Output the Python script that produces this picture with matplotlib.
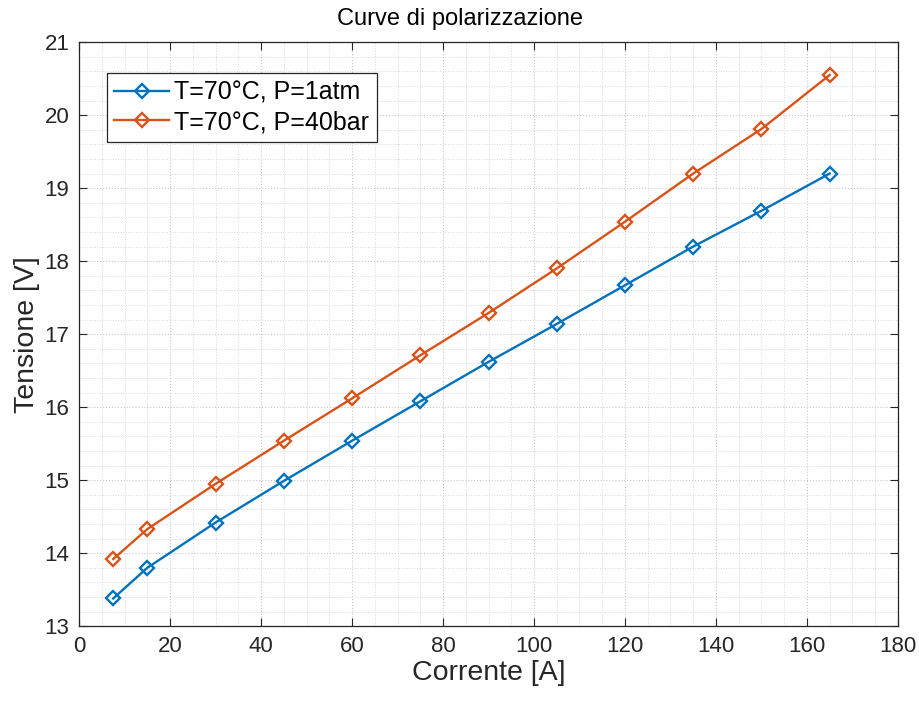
import matplotlib
matplotlib.use("Agg")
import matplotlib.pyplot as plt
from matplotlib.ticker import MultipleLocator

plt.rcParams['font.family'] = ['Liberation Sans', 'DejaVu Sans']

current = [7.5, 15, 30, 45, 60, 75, 90, 105, 120, 135, 150, 165]
v_1atm = [13.38, 13.80, 14.42, 14.99, 15.54, 16.08, 16.62, 17.14, 17.67, 18.20, 18.69, 19.20]
v_40bar = [13.92, 14.33, 14.95, 15.54, 16.12, 16.71, 17.29, 17.90, 18.54, 19.20, 19.81, 20.55]
labels = ['T=70°C, P=1atm', 'T=70°C, P=40bar']
title = 'Curve di polarizzazione'
xlabel = 'Corrente [A]'
ylabel = 'Tensione [V]'

fig = plt.figure(figsize=(9.2, 7.02), dpi=100)
ax = fig.add_axes([0.086, 0.108, 0.890, 0.832])

ax.plot(current, v_1atm, '-D', color='#0072BD', lw=1.7, ms=7, mfc='none', mew=1.7, label=labels[0])
ax.plot(current, v_40bar, '-D', color='#D95319', lw=1.7, ms=7, mfc='none', mew=1.7, label=labels[1])

ax.set_xlim(0, 180)
ax.set_ylim(13, 21)
ax.xaxis.set_major_locator(MultipleLocator(20))
ax.xaxis.set_minor_locator(MultipleLocator(5))
ax.yaxis.set_major_locator(MultipleLocator(1))
ax.yaxis.set_minor_locator(MultipleLocator(0.2))
ax.grid(which='major', color='#c8c8c8', ls=':', lw=0.8)
ax.grid(which='minor', color='#d8d8d8', ls=':', lw=0.7)
ax.set_axisbelow(True)
ax.tick_params(which='major', direction='in', length=6, top=True, right=True, labelsize=16, colors='#262626', pad=7)
ax.tick_params(which='minor', length=0)
for s in ax.spines.values():
    s.set_color('#262626')
    s.set_linewidth(0.9)

fig.text(0.5, 1 - 19 / 702, title, fontsize=17, color='#000000', ha='center', va='center')
ax.set_xlabel(xlabel, fontsize=20.5, color='#262626', labelpad=2)
ax.set_ylabel(ylabel, fontsize=20.5, color='#262626', labelpad=3)

leg = ax.legend(loc='upper left', bbox_to_anchor=(0.034, 0.947), fontsize=18, frameon=True,
                fancybox=False, edgecolor='#262626', framealpha=1, borderpad=0.3,
                handlelength=2.2, handletextpad=0.2, labelspacing=0.22, borderaxespad=0)
leg.get_frame().set_linewidth(0.9)

fig.savefig('out.png', dpi=100, facecolor='white')
